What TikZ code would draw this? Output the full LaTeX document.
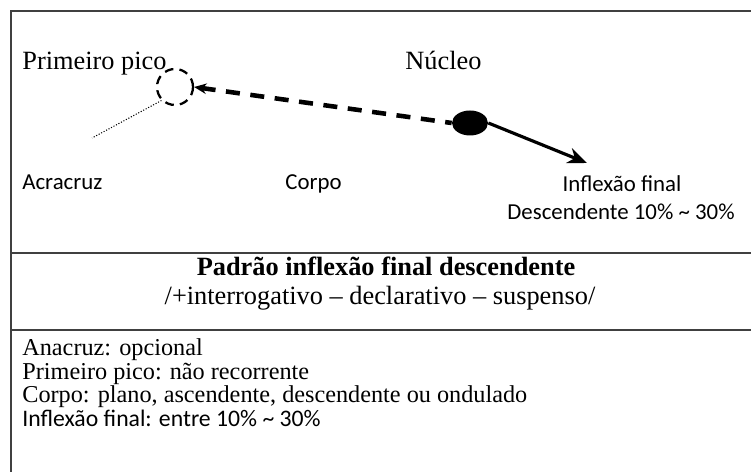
\documentclass[tikz,border=0pt]{standalone}
\usepackage{fontspec}
\setmainfont{Liberation Serif}
\newfontfamily\calib{Carlito}
\usetikzlibrary{arrows.meta, shapes.geometric, positioning}

\begin{document}
\begin{tikzpicture}[
      x=0.02cm, y=-0.02cm,
      >=stealth,
      rule/.style = {draw=black!75, line width=1.1pt},
      serif/.style = {font=\fontsize{15}{17}\selectfont, inner sep=0pt},
      sans/.style = {font=\calib\fontsize{13}{16}\selectfont, inner sep=0pt},
      item/.style = {font=\fontsize{13.8}{15}\selectfont, inner sep=0pt, anchor=base west},
      itemsans/.style = {font=\calib\fontsize{13.5}{15}\selectfont, inner sep=0pt, anchor=base west}
    ]

    \useasboundingbox (0,0) rectangle (751,472);

    % frame of the table
    \draw[rule] (751,11) -- (11,11) -- (11,472);
    \draw[rule] (11,253) -- (751,253);
    \draw[rule] (11,330) -- (751,330);

    % contour
    \node[serif, anchor=base west] (pico)   at (22,70)  {Primeiro pico};
    \node[serif, anchor=base west] (nucleo) at (405,70) {Núcleo};

    \node[circle, draw, line width=1.3pt, dash pattern=on 5pt off 3.5pt,
          minimum size=36*0.02cm, inner sep=0pt] (peak) at (175,87) {};
    \node[ellipse, fill=black, minimum width=36*0.02cm, minimum height=25*0.02cm,
          inner sep=0pt] (nuc) at (470,123) {};
    \coordinate (fim)  at (587,163);
    \coordinate (anac) at (92,138);

    \draw[densely dotted, line width=0.6pt] (peak.225) -- (anac);
    \draw[{Stealth[length=7pt,width=6pt]}-, line width=2.6pt, dash pattern=on 8pt off 6pt]
      (peak.east) -- (nuc.west);
    \draw[-{Stealth[length=11pt,width=9pt]}, line width=1.8pt] (nuc.east) -- (fim);

    \node[sans, anchor=base west] (acracruz) at (22,190)  {Acracruz};
    \node[sans, anchor=base west] (corpo)    at (285,190) {Corpo};
    \node[sans, anchor=base]      (inflexao) at (622,192) {Inflexão final};
    \node[sans, anchor=base]      (desc)     at (621,220) {Descendente 10\% \textasciitilde{} 30\%};

    % title
    \node[serif, font=\bfseries\fontsize{15}{17}\selectfont, anchor=base] (titulo) at (386,276)
      {Padrão inflexão final descendente};
    \node[serif, anchor=base] (sub) at (380,305)
      {/+interrogativo -- declarativo -- suspenso/};

    % list
    \node[item] (l1) at (22,356) {Anacruz: opcional};
    \node[item] (l2) at (22,380) {Primeiro pico: não recorrente};
    \node[item] (l3) at (22,403) {Corpo: plano, ascendente, descendente ou ondulado};
    \node[itemsans] (l4) at (22,427) {Inflexão final: entre 10\% \textasciitilde{} 30\%};

  \end{tikzpicture}
\end{document}
